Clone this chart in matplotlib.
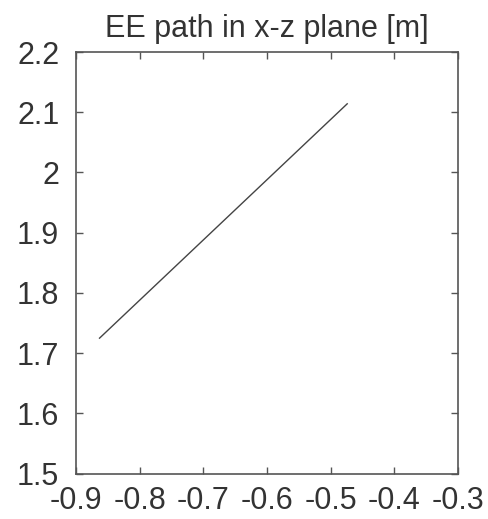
import matplotlib
matplotlib.use("Agg")
import matplotlib.pyplot as plt

# path of the end effector (x, z) in metres
x_path = [-0.863, -0.474]
z_path = [1.725, 2.114]

x_ticks = [-0.9, -0.8, -0.7, -0.6, -0.5, -0.4, -0.3]
z_ticks = [1.5, 1.6, 1.7, 1.8, 1.9, 2.0, 2.1, 2.2]
z_labels = ["1.5", "1.6", "1.7", "1.8", "1.9", "2", "2.1", "2.2"]

plt.rcParams["font.family"] = ["Liberation Sans", "DejaVu Sans"]

fig = plt.figure(figsize=(4.88, 5.19), dpi=100)
ax = fig.add_axes([0.1557, 0.0873, 0.7828, 0.8125])

ax.plot(x_path, z_path, color="#444444", linewidth=1.0)

ax.set_xlim(-0.9, -0.3)
ax.set_ylim(1.5, 2.2)
ax.set_xticks(x_ticks)
ax.set_xticklabels([f"{v:g}" for v in x_ticks])
ax.set_yticks(z_ticks)
ax.set_yticklabels(z_labels)

ax.tick_params(direction="in", top=True, right=True, length=5, width=1,
               color="#555555", labelsize=22, labelcolor="#333333")
ax.tick_params(axis="y", pad=12)
ax.tick_params(axis="x", pad=9)
for s in ax.spines.values():
    s.set_color("#555555")
    s.set_linewidth(1.2)

ax.set_title("EE path in x-z plane [m]", fontsize=22, color="#333333", pad=11)

fig.savefig("out.png", dpi=100)
